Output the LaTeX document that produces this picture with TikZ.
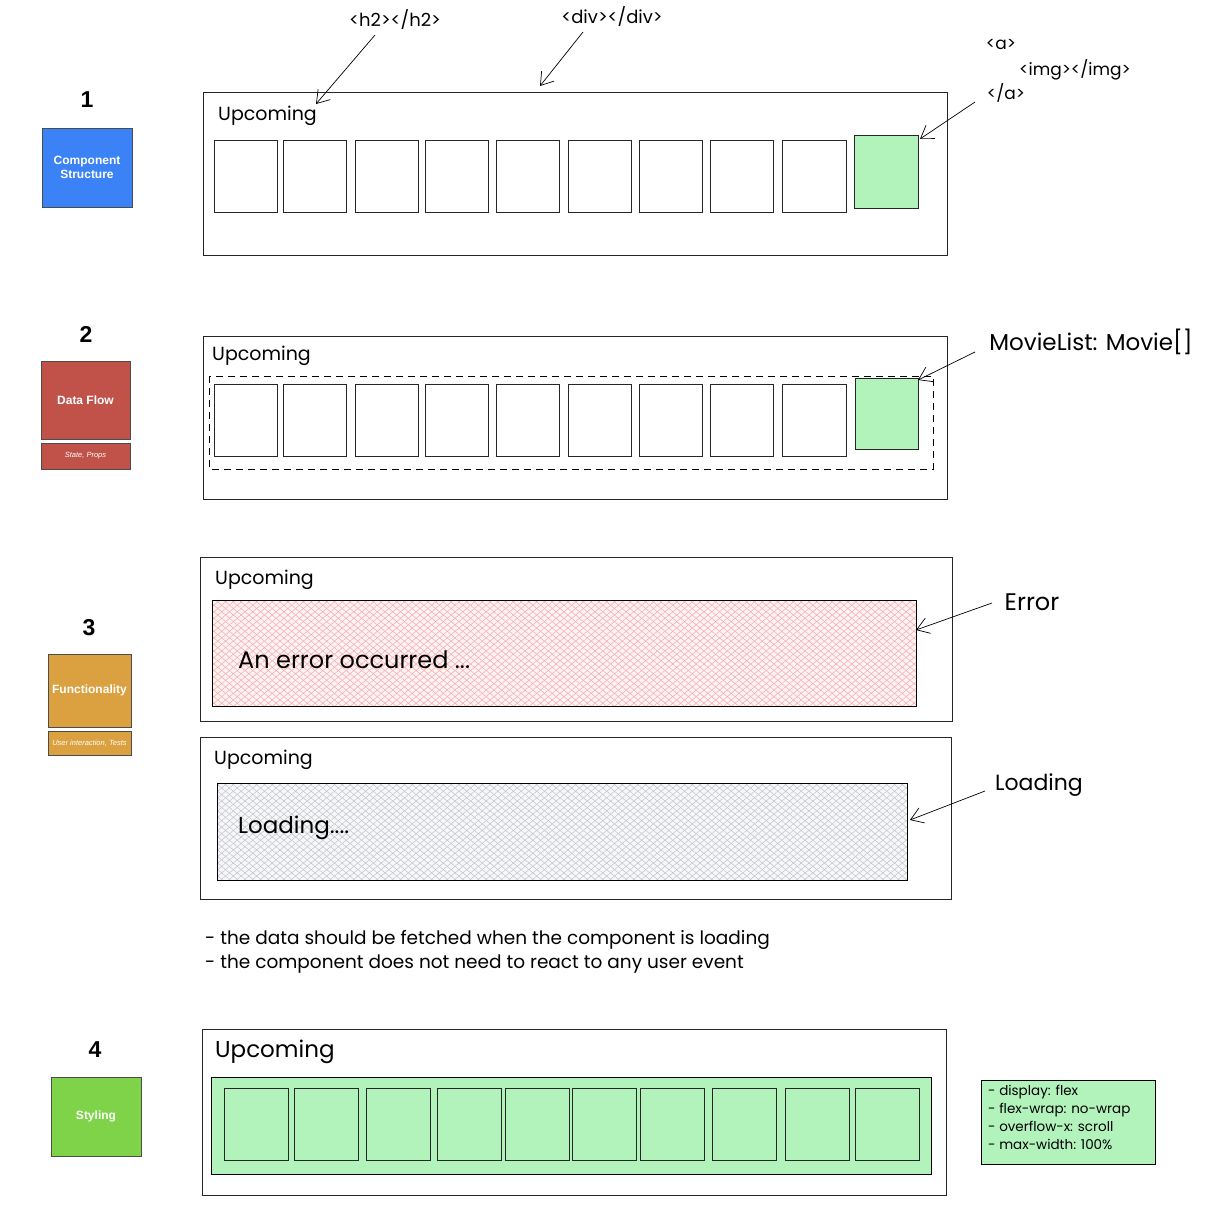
\documentclass[tikz,border=0pt]{standalone}
\usepackage{fontspec}
\setmainfont{Liberation Sans}
\newfontfamily\hand{Poppins}
\usetikzlibrary{arrows.meta,patterns.meta}
\definecolor{cblue}{RGB}{59,130,246}
\definecolor{cred}{RGB}{192,82,74}
\definecolor{corange}{RGB}{219,160,63}
\definecolor{cgreen}{RGB}{126,211,72}
\definecolor{lgreen}{RGB}{178,242,187}
\definecolor{hpink}{RGB}{244,170,170}
\definecolor{hgray}{RGB}{190,195,205}
\tikzset{
  frame/.style={draw=black!85,line width=0.8pt},
  sq/.style={draw=black!85,line width=0.8pt,fill=white},
  gsq/.style={draw=black!85,line width=0.8pt,fill=lgreen},
  tag/.style={draw=black!70,line width=0.8pt,text=white,font=\bfseries\fontsize{12}{14}\selectfont,align=center,inner sep=0pt},
  subtag/.style={draw=black!70,line width=0.8pt,text=white,font=\itshape\fontsize{7.5}{9}\selectfont,inner sep=0pt},
  num/.style={font=\bfseries\fontsize{23}{25}\selectfont},
  title/.style={font=\hand\fontsize{19}{21}\selectfont,anchor=west,inner sep=0pt},
  note/.style={font=\hand\fontsize{18}{20}\selectfont,inner sep=0pt},
  arr/.style={line width=0.7pt,-{Straight Barb[length=12pt,width=16pt]}},
  hatchA/.style={pattern={Lines[angle=40,distance=5pt,line width=0.5pt]}},
  hatchB/.style={pattern={Lines[angle=-40,distance=5pt,line width=0.5pt]}},
}
\begin{document}
\begin{tikzpicture}[x=1pt,y=-1pt]
\useasboundingbox (0,0) rectangle (1219,1209);
% ---------- Section 1
\node[num] (n1) at (87,100) {1};
\node[tag,fill=cblue,minimum width=90pt,minimum height=79pt] (t1) at (87,167.5) {Component\\Structure};
\draw[frame] (203,92) rectangle (947,255);
\node[title] (up1) at (218,116) {Upcoming};
\foreach \i/\xa/\xb in {1/214/277,2/283/346,3/355/418,4/425/488,5/496/559,6/568/631,7/639/702,8/710/773,9/782/846}{
  \draw[sq] (\xa,140) rectangle (\xb,212);
}
\draw[gsq] (854,135) rectangle (918,208);
\node[note] (h2l) at (395,20) {<h2></h2>};
\node[note] (divl) at (612,17) {<div></div>};
\node[note,font=\hand\fontsize{17}{19}\selectfont] (al) at (1001,45) {<a>};
\node[note,font=\hand\fontsize{17}{19}\selectfont] (imgl) at (1075,70) {<img></img>};
\node[note,font=\hand\fontsize{17}{19}\selectfont] (ael) at (1006,93) {</a>};
\coordinate (h2s) at (375,35);
\coordinate (h2e) at (316,104);
\coordinate (divs) at (583,32);
\coordinate (dive) at (540,86);
\coordinate (as) at (975,102);
\coordinate (ae) at (920,139);
\draw[arr] (h2s) -- (h2e);
\draw[arr] (divs) -- (dive);
\draw[arr] (as) -- (ae);
% ---------- Section 2
\node[num] (n2) at (86,334) {2};
\node[tag,fill=cred,minimum width=89pt,minimum height=78pt] (t2) at (85.5,400) {Data Flow};
\node[subtag,fill=cred,minimum width=89pt,minimum height=26pt] (t2b) at (85.5,456) {State, Props};
\draw[frame] (203,336) rectangle (947,499);
\node[title] (up2) at (212,356) {Upcoming};
\draw[line width=0.8pt,dash pattern=on 7pt off 5pt] (209,376) rectangle (933,469);
\foreach \i/\xa/\xb in {1/214/277,2/283/346,3/355/418,4/425/488,5/496/559,6/568/631,7/639/702,8/710/773,9/782/846}{
  \draw[sq] (\xa,384) rectangle (\xb,456);
}
\draw[gsq] (855,378) rectangle (918,449);
\node[note,font=\hand\fontsize{23}{25}\selectfont] (mvl) at (1091,342) {MovieList: Movie[]};
\coordinate (mvs) at (975,352);
\coordinate (mve) at (918,380);
\draw[arr] (mvs) -- (mve);
% ---------- Section 3
\node[num] (n3) at (89,628) {3};
\node[tag,fill=corange,minimum width=83pt,minimum height=73pt] (t3) at (89.5,690.5) {Functionality};
\node[subtag,fill=corange,minimum width=83pt,minimum height=24pt] (t3b) at (89.5,743) {User interaction, Tests};
\draw[frame] (200,557) rectangle (952,721);
\node[title] (up3) at (215,580) {Upcoming};
\fill[red!5] (212,600) rectangle (916,706);
\fill[hatchA,pattern color=hpink] (212,600) rectangle (916,706);
\fill[hatchB,pattern color=hpink] (212,600) rectangle (916,706);
\draw[line width=0.8pt] (212,600) rectangle (916,706);
\node[title,font=\hand\fontsize{24}{26}\selectfont] (errt) at (238,660) {An error occurred ...};
\node[note,font=\hand\fontsize{24}{26}\selectfont] (errl) at (1032,602) {Error};
\coordinate (es) at (992,603);
\coordinate (ee) at (916,630);
\draw[arr] (es) -- (ee);
\draw[frame] (200,737) rectangle (951,899);
\node[title] (up4) at (214,760) {Upcoming};
\fill[black!3] (217,783) rectangle (907,880);
\fill[hatchA,pattern color=hgray] (217,783) rectangle (907,880);
\fill[hatchB,pattern color=hgray] (217,783) rectangle (907,880);
\draw[line width=0.8pt] (217,783) rectangle (907,880);
\node[title,font=\hand\fontsize{23}{25}\selectfont] (lt) at (238,828) {Loading....};
\node[note,font=\hand\fontsize{22}{24}\selectfont] (ll) at (1039,785) {Loading};
\coordinate (ls) at (985,791);
\coordinate (le) at (910,820);
\draw[arr] (ls) -- (le);
\node[note,anchor=west,align=left,font=\hand\fontsize{18.5}{24}\selectfont] (notes) at (205,952) {- the data should be fetched when the component is loading\\- the component does not need to react to any user event};
% ---------- Section 4
\node[num] (n4) at (95,1050) {4};
\node[tag,fill=cgreen,minimum width=90pt,minimum height=79pt] (t4) at (96,1116.5) {Styling};
\draw[frame] (202,1029) rectangle (946,1195);
\node[title,font=\hand\fontsize{23}{25}\selectfont] (up5) at (215,1052) {Upcoming};
\draw[line width=0.8pt,fill=lgreen] (211,1077) rectangle (931,1174);
\foreach \i/\xa/\xb in {1/224/288,2/294/358,3/366/430,4/437/501,5/505/569,6/572/636,7/640/704,8/712/776,9/785/849,10/855/919}{
  \draw[gsq] (\xa,1088) rectangle (\xb,1160);
}
\draw[line width=0.8pt,fill=lgreen] (981,1080) rectangle (1155,1164);
\node[note,anchor=north west,align=left,font=\hand\fontsize{13.5}{18}\selectfont] (css) at (988,1085) {- display: flex\\- flex-wrap: no-wrap\\- overflow-x: scroll\\- max-width: 100\%};
\end{tikzpicture}
\end{document}
